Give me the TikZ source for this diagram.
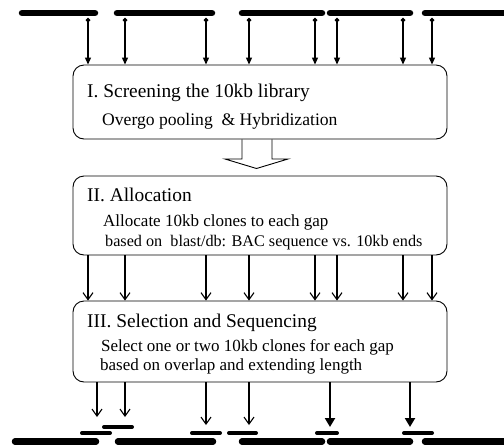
\documentclass[tikz,border=0pt]{standalone}
\usepackage{fontspec}
\setmainfont{Liberation Serif}
\usetikzlibrary{arrows.meta,calc}
\tikzset{
  stagebox/.style={draw, line width=0.9pt, rounded corners=11pt, minimum width=374pt, inner sep=0pt},
  headtxt/.style={anchor=base west, inner sep=0pt, font=\fontsize{19.4}{22}\selectfont},
  subtxt/.style={anchor=base west, inner sep=0pt, font=\fontsize{17}{20}\selectfont},
  bac/.style={line width=6.5pt, line cap=round},
  clone/.style={line width=4pt, line cap=round},
  screenarrow/.style={line width=1.2pt, {Diamond[length=5pt,width=5pt]}-{Triangle[length=7pt,width=6pt]}},
  allocarrow/.style={line width=1.1pt, -{Straight Barb[length=7pt,width=10pt,line width=1.1pt]}},
  selarrow/.style={line width=1.1pt, -{Straight Barb[length=7pt,width=10pt,line width=1.1pt]}},
  selthick/.style={line width=2pt, -{Triangle[length=9pt,width=10pt]}},
  hollow/.style={line width=0.9pt}
}
\begin{document}
\begin{tikzpicture}[x=1pt,y=-1pt]
\useasboundingbox (0,0) rectangle (504,445);

% top BAC bars
\draw[bac] (22,13) -- (95,13);
\draw[bac] (117,13) -- (212,13);
\draw[bac] (242,13) -- (322,13);
\draw[bac] (330,13) -- (410,13);
\draw[bac] (425,13) -- (512,13);

% boxes
\node[stagebox, minimum height=74pt] (b1) at (260,102) {};
\node[stagebox, minimum height=79pt] (b2) at (260,215.5) {};
\node[stagebox, minimum height=81pt] (b3) at (260,341.5) {};

% texts
\node[headtxt] (t1a) at (87,97) {I. Screening the 10kb library};
\node[subtxt, font=\fontsize{17.6}{20}\selectfont] (t1b) at (102,125) {Overgo pooling\ \ \& Hybridization};
\node[headtxt] (t2a) at (87,201.5) {II. Allocation};
\node[subtxt] (t2b) at (103,226.5) {Allocate 10kb clones to each gap};
\node[subtxt, font=\fontsize{16.2}{20}\selectfont] (t2c) at (105,246.5) {based on\ \ blast/db: BAC sequence vs. 10kb ends};
\node[headtxt] (t3a) at (87,327) {III. Selection and Sequencing};
\node[subtxt] (t3b) at (101,351.5) {Select one or two 10kb clones for each gap};
\node[subtxt] (t3c) at (100,370.5) {based on overlap and extending length};

% screening arrows (top) and allocation arrows
\foreach \x [count=\i] in {88,125,206,249,315,337,403,432}{
  \coordinate (s\i) at (\x,17.5);
  \draw[screenarrow] (s\i) -- (s\i |- b1.north);
  \draw[allocarrow] (s\i |- b2.south) -- (s\i |- b3.north);
}

% hollow arrow from box I to box II
\draw[hollow] (242,0 |- b1.south) -- (242,159) -- (225,159) -- (256.5,168.5) -- (288,159) -- (272,159) -- (272,0 |- b1.south);

% clones
\coordinate (c1) at (96,433); \draw[clone] (82,433) -- (110,433);
\coordinate (c2) at (118,427); \draw[clone] (104,427) -- (132,427);
\coordinate (c3) at (206,433); \draw[clone] (192,433) -- (220,433);
\coordinate (c4) at (242,433); \draw[clone] (229,433) -- (256,433);
\coordinate (c5) at (327,433); \draw[clone] (317,433) -- (337,433);
\coordinate (c6) at (418,433); \draw[clone] (404,433) -- (432,433);

% selection arrows
\coordinate (e1) at (97,417);
\coordinate (e2) at (125,417);
\coordinate (e3) at (206,425);
\coordinate (e4) at (249,425);
\coordinate (e5) at (330,427);
\coordinate (e6) at (410,427);
\draw[selarrow] (e1 |- b3.south) -- (e1);
\draw[selarrow] (e2 |- b3.south) -- (e2);
\draw[selarrow] (e3 |- b3.south) -- (e3);
\draw[selarrow] (e4 |- b3.south) -- (e4);
\draw[selthick] (e5 |- b3.south) -- (e5);
\draw[selthick] (e6 |- b3.south) -- (e6);

% bottom BAC bars
\draw[bac] (15,441.5) -- (96,441.5);
\draw[bac] (118,441.5) -- (213,441.5);
\draw[bac] (242,441.5) -- (322,441.5);
\draw[bac] (330,441.5) -- (410,441.5);
\draw[bac] (425,441.5) -- (512,441.5);
\end{tikzpicture}
\end{document}
